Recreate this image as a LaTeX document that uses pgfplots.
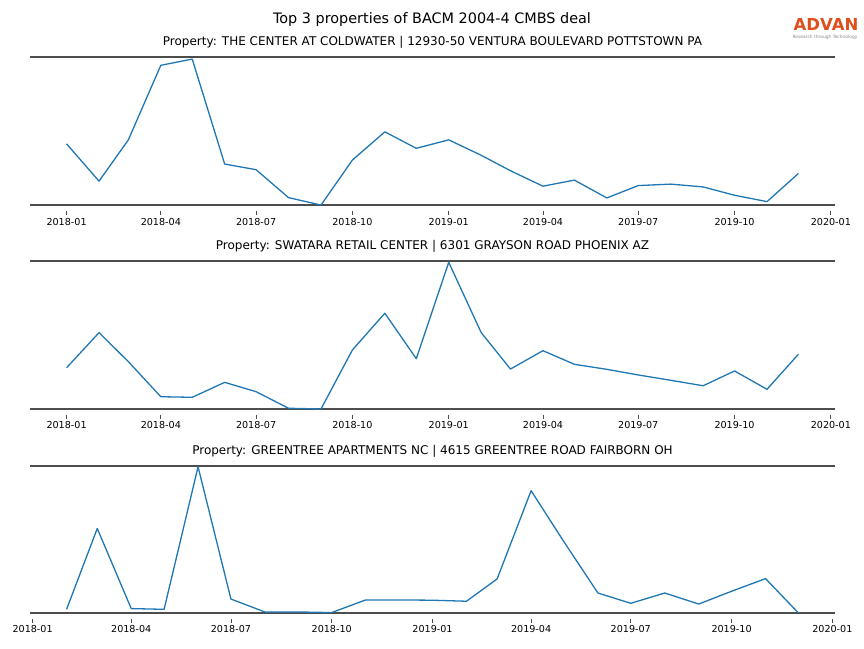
\documentclass[border=0pt]{standalone}
\usepackage{pgfplots}
\pgfplotsset{compat=1.18}
\usepackage{fontspec}
\setmainfont{DejaVu Sans}
\definecolor{tabblue}{HTML}{1F77B4}
\definecolor{spine}{HTML}{4D4D4D}
\definecolor{advan}{HTML}{E04E1B}
\definecolor{tagline}{HTML}{8A8A8A}

\pgfplotsset{
  panel/.style={
    scale only axis,
    width=805pt,
    height=148pt,
    anchor=south west,
    ymin=0, ymax=100,
    ytick=\empty,
    separate axis lines,
    y axis line style={draw=none},
    x axis line style={draw=spine, line width=2pt},
    xtick pos=left,
    tick align=outside,
    major tick length=4pt,
    xtick style={draw=spine, line width=0.8pt, yshift=-6pt},
    xticklabel style={font=\fontsize{9.6}{11}\selectfont, yshift=-5pt},
    /pgf/number format/assume math mode=true,
    xtick={0,90,181,273,365,455,546,638,730},
    xticklabels={2018-01,2018-04,2018-07,2018-10,2019-01,2019-04,2019-07,2019-10,2020-01},
    clip=false,
  },
  series/.style={tabblue, line width=1.3pt, no marks, line join=round},
}

\begin{document}
\begin{tikzpicture}[x=1pt,y=1pt]
\path (0,0) rectangle (864,648);

% titles
\node[anchor=base, font=\fontsize{14.4}{16}\selectfont] at (432,624.5) {Top 3 properties of BACM 2004-4 CMBS deal};
\node[anchor=base, font=\fontsize{12}{14}\selectfont] at (432.5,602) {Property: THE CENTER AT COLDWATER | 12930-50 VENTURA BOULEVARD POTTSTOWN PA};
\node[anchor=base, font=\fontsize{12}{14}\selectfont] at (432.5,398) {Property: SWATARA RETAIL CENTER | 6301 GRAYSON ROAD PHOENIX AZ};
\node[anchor=base, font=\fontsize{12}{14}\selectfont] at (432.5,193) {Property: GREENTREE APARTMENTS NC | 4615 GREENTREE ROAD FAIRBORN OH};

% logo
\node[anchor=base, text=advan, font=\fontsize{16.5}{18}\selectfont\bfseries] at (826,617) {ADVAN};
\node[anchor=base, text=tagline, font=\fontsize{4.4}{5}\selectfont] at (825,609.5) {Research through Technology};

% panel 1
\begin{axis}[panel, at={(30pt,442.5pt)}, height=148.5pt, xmin=-34.95, xmax=733.95]
\addplot[series] table {
x y
0 41.5
31 16.4
59 44.2
90 94.4
120 98.6
151 27.9
181 24.1
212 5.3
243 0.3
273 30.6
304 49.6
334 38.5
365 44.2
396 33.8
424 23.4
455 13.0
485 17.1
516 5.1
546 13.4
577 14.4
608 12.5
638 6.9
669 2.6
699 21.6
};
\end{axis}

% panel 2
\begin{axis}[panel, at={(30pt,239pt)}, xmin=-34.95, xmax=733.95]
\addplot[series] table {
x y
0 27.9
31 51.6
59 32.0
90 8.3
120 7.9
151 18.0
181 11.7
212 0.5
243 0.0
273 39.9
304 64.7
334 34.0
365 99.1
396 51.6
424 27.0
455 39.4
485 30.2
516 26.8
546 23.0
577 19.4
608 15.7
638 25.7
669 13.3
699 37.0
};
\end{axis}

% panel 3
\begin{axis}[panel, at={(30pt,35pt)}, height=147pt, xmin=-2.4, xmax=732.4]
\addplot[series] table {
x y
31 2.5
59 57.5
90 3.0
120 2.5
151 99.5
181 9.5
212 0.7
243 0.7
273 0.3
304 8.9
334 8.9
365 8.7
396 8.0
424 23.2
455 83.2
485 48.4
516 13.6
546 6.6
577 13.6
608 6.1
638 14.8
669 23.4
699 0.0
};
\end{axis}
\end{tikzpicture}
\end{document}
